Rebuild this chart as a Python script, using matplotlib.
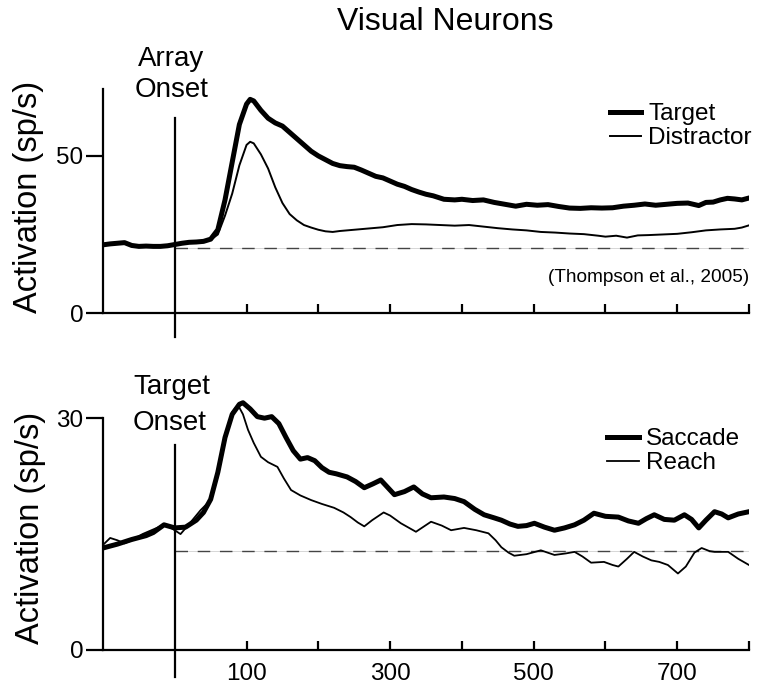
import matplotlib
matplotlib.use("Agg")
import matplotlib.pyplot as plt
import numpy as np

plt.rcParams['font.family'] = ['Liberation Sans', 'DejaVu Sans']

# ---------------- data ----------------
top_target_t = [-100, -90, -80, -70, -60, -50, -40, -30, -20, -10, 0, 10, 20, 30, 40, 50, 60, 70, 80, 90,
                100, 105, 110, 120, 130, 140, 150, 160, 170, 180, 190, 200, 210, 220, 230, 240, 250, 260,
                270, 280, 290, 300, 310, 320, 330, 340, 350, 360, 375, 390, 400, 415, 430, 445, 460, 475,
                490, 505, 520, 535, 550, 565, 580, 595, 610, 625, 640, 655, 670, 685, 700, 715, 730, 740,
                750, 760, 770, 780, 790, 800]
top_target_v = [21.7, 22.0, 22.2, 22.4, 21.5, 21.2, 21.3, 21.2, 21.2, 21.4, 21.8, 22.2, 22.5, 22.6, 22.8,
                23.5, 26.5, 36.0, 48.0, 60.0, 66.5, 68.0, 67.5, 64.5, 62.0, 60.5, 59.5, 57.5, 55.5, 53.5,
                51.5, 50.0, 48.8, 47.6, 46.9, 46.6, 46.4, 45.5, 44.5, 43.5, 43.0, 42.0, 41.0, 40.3, 39.3,
                38.5, 37.8, 37.3, 36.2, 36.0, 36.2, 35.8, 36.0, 35.2, 34.6, 34.0, 34.6, 34.3, 34.5, 33.9,
                33.4, 33.3, 33.5, 33.4, 33.5, 34.0, 34.3, 34.7, 34.3, 34.6, 34.9, 35.0, 34.2, 35.2, 35.3,
                36.0, 36.5, 36.3, 36.0, 36.6]

top_distr_t = [-100, -90, -80, -70, -60, -50, -40, -30, -20, -10, 0, 10, 20, 30, 40, 50, 60, 70, 80, 90,
               100, 105, 110, 120, 130, 140, 150, 160, 170, 180, 190, 200, 210, 220, 230, 250, 270, 290,
               310, 330, 350, 370, 390, 410, 430, 450, 470, 490, 510, 530, 550, 570, 590, 600, 615, 630,
               645, 660, 680, 700, 720, 740, 760, 780, 790, 800]
top_distr_v = [21.5, 21.8, 22.0, 22.1, 21.4, 21.1, 21.2, 21.1, 21.1, 21.3, 21.7, 22.0, 22.3, 22.5, 22.7,
               23.3, 25.0, 31.0, 38.0, 47.0, 53.5, 54.5, 54.0, 50.5, 46.0, 40.0, 35.0, 31.5, 29.5, 28.0,
               27.2, 26.5, 26.0, 25.8, 26.1, 26.5, 26.9, 27.3, 28.0, 28.3, 28.2, 28.0, 27.8, 28.0, 27.5,
               27.0, 26.6, 26.3, 25.8, 25.6, 25.3, 25.1, 24.6, 24.3, 24.6, 24.0, 24.7, 24.8, 25.0, 25.2,
               25.7, 26.3, 26.6, 26.8, 27.2, 27.9]

bot_sacc_t = [-100, -80, -60, -40, -30, -15, 0, 15, 30, 40, 50, 60, 70, 80, 90, 95, 105, 115, 125, 135,
              145, 155, 165, 175, 185, 195, 205, 215, 225, 240, 252, 264, 276, 287, 297, 306, 320, 333,
              345, 357, 375, 390, 403, 418, 431, 445, 455, 467, 478, 490, 501, 515, 529, 543, 557, 570,
              584, 600, 618, 632, 646, 657, 668, 682, 696, 710, 720, 730, 740, 752, 762, 771, 785, 800]
bot_sacc_v = [13.2, 13.7, 14.3, 14.8, 15.2, 16.2, 15.8, 15.9, 16.8, 17.8, 19.5, 23.0, 27.5, 30.5, 31.8,
              32.0, 31.2, 30.2, 30.0, 30.2, 29.3, 27.5, 25.8, 24.7, 24.9, 24.5, 23.6, 23.0, 22.8, 22.4,
              21.8, 21.0, 21.5, 22.0, 21.0, 20.1, 20.5, 21.1, 20.2, 19.7, 19.8, 19.6, 19.2, 18.2, 17.5,
              17.1, 16.8, 16.3, 16.0, 16.1, 16.4, 15.9, 15.5, 15.8, 16.2, 16.8, 17.7, 17.3, 17.2, 16.7,
              16.4, 17.0, 17.5, 16.9, 16.8, 17.5, 16.9, 15.8, 16.8, 17.9, 17.6, 17.1, 17.6, 17.9]

bot_reach_t = [-100, -90, -80, -70, -60, -45, -30, -15, -5, 8, 20, 36, 50, 60, 70, 80, 88, 95, 102, 110,
               120, 130, 143, 152, 162, 175, 190, 205, 222, 235, 245, 255, 264, 275, 291, 300, 315, 336,
               357, 372, 385, 403, 420, 437, 447, 455, 465, 473, 490, 510, 529, 545, 557, 568, 580, 598,
               610, 618, 630, 640, 652, 664, 675, 687, 701, 712, 724, 734, 745, 752, 771, 785, 800]
bot_reach_v = [13.6, 14.5, 14.2, 13.8, 14.2, 15.0, 15.6, 16.2, 15.8, 15.0, 16.3, 18.1, 19.4, 22.5, 27.0,
               30.8, 31.7, 30.5, 28.5, 26.8, 25.0, 24.3, 23.7, 22.2, 20.7, 20.0, 19.4, 18.9, 18.4, 17.8,
               17.2, 16.5, 16.0, 16.8, 17.8, 17.4, 16.4, 15.3, 16.6, 16.1, 15.5, 15.8, 15.5, 15.1, 14.2,
               13.3, 12.6, 12.2, 12.4, 12.9, 12.3, 12.5, 12.7, 12.1, 11.3, 11.4, 11.0, 10.8, 11.8, 12.7,
               12.1, 11.6, 11.4, 11.0, 9.9, 10.8, 12.6, 13.2, 12.8, 12.7, 12.7, 11.8, 11.0]

top_baseline = 20.7
bot_baseline = 12.8
top_yticks = [0, 50]
bot_yticks = [0, 30]
bot_xlabels = [100, 300, 500, 700]
all_xticks = [100, 200, 300, 400, 500, 600, 700, 800]

# ---------------- figure ----------------
W, H = 758, 686
fig = plt.figure(figsize=(W / 100, H / 100), dpi=100)

def frac_x(px):
    return px / W

def frac_y(py):
    return 1 - py / H

axL, axR = 103, 749
ax1 = fig.add_axes([frac_x(axL), frac_y(313), (axR - axL) / W, (313 - 89) / H])
ax2 = fig.add_axes([frac_x(axL), frac_y(650), (axR - axL) / W, (650 - 395) / H])

TICK_FS = 17.5
for ax in (ax1, ax2):
    ax.set_xlim(-100, 800)
    for s in ('top', 'right'):
        ax.spines[s].set_visible(False)
    for s in ('left', 'bottom'):
        ax.spines[s].set_linewidth(1.6)
    ax.tick_params(axis='y', direction='out', length=12, width=1.6, labelsize=TICK_FS, pad=2)
    ax.tick_params(axis='x', which='both', direction='in', length=6.5, width=1.6, labelsize=TICK_FS, pad=9)

ax1.set_ylim(0, 71.3)
ax2.set_ylim(0, 33)
ax2.spines['left'].set_bounds(0, 30)

ax1.set_yticks(top_yticks)
ax2.set_yticks(bot_yticks)
ax1.set_xticks(all_xticks)
ax1.set_xticklabels([])
ax2.set_xticks(bot_xlabels)
ax2.set_xticks([t for t in all_xticks if t not in bot_xlabels], minor=True)

# baselines
for ax, b in ((ax1, top_baseline), (ax2, bot_baseline)):
    ax.plot([0, 800], [b, b], color='#d0d0d0', lw=0.6, zorder=1)
    ax.plot([0, 800], [b, b], color='#444444', lw=1.0, dashes=(9, 7), zorder=1)

# traces
ax1.plot(top_target_t, top_target_v, color='black', lw=3.6, solid_joinstyle='round', label='Target', zorder=3)
ax1.plot(top_distr_t, top_distr_v, color='black', lw=1.4, solid_joinstyle='round', label='Distractor', zorder=3)
ax2.plot(bot_sacc_t, bot_sacc_v, color='black', lw=3.6, solid_joinstyle='round', label='Saccade', zorder=3)
ax2.plot(bot_reach_t, bot_reach_v, color='black', lw=1.3, solid_joinstyle='round', label='Reach', zorder=3)

# onset lines
ax1.plot([0, 0], [62.1, -7.6], color='black', lw=1.6, clip_on=False, zorder=2)
ax2.plot([0, 0], [26.5, -3.5], color='black', lw=1.6, clip_on=False, zorder=2)

# legends
LEG_FS = 17.5
ax1.legend(loc='upper right', bbox_to_anchor=(frac_x(752), frac_y(103)), bbox_transform=fig.transFigure,
           frameon=False, fontsize=LEG_FS, handlelength=1.3, handletextpad=0.3, labelspacing=0.1,
           borderpad=0, borderaxespad=0)
ax2.legend(loc='upper right', bbox_to_anchor=(frac_x(740), frac_y(428)), bbox_transform=fig.transFigure,
           frameon=False, fontsize=LEG_FS, handlelength=1.3, handletextpad=0.3, labelspacing=0.1,
           borderpad=0, borderaxespad=0)

# texts
fig.text(frac_x(445), frac_y(30), 'Visual Neurons', ha='center', va='baseline', fontsize=23)
ON_FS = 20
fig.text(frac_x(171), frac_y(66), 'Array', ha='center', va='baseline', fontsize=ON_FS)
fig.text(frac_x(172), frac_y(97), 'Onset', ha='center', va='baseline', fontsize=ON_FS)
fig.text(frac_x(172), frac_y(394), 'Target', ha='center', va='baseline', fontsize=ON_FS)
fig.text(frac_x(170), frac_y(430), 'Onset', ha='center', va='baseline', fontsize=ON_FS)
fig.text(frac_x(749), frac_y(278), '(Thompson et al., 2005)', ha='right', va='center', fontsize=13.7)

YL_FS = 23.5
fig.text(frac_x(29), frac_y(197), 'Activation (sp/s)', rotation=90, ha='center', va='center', fontsize=YL_FS)
fig.text(frac_x(30), frac_y(528), 'Activation (sp/s)', rotation=90, ha='center', va='center', fontsize=YL_FS)

fig.savefig('out.png', dpi=100, facecolor='white')
